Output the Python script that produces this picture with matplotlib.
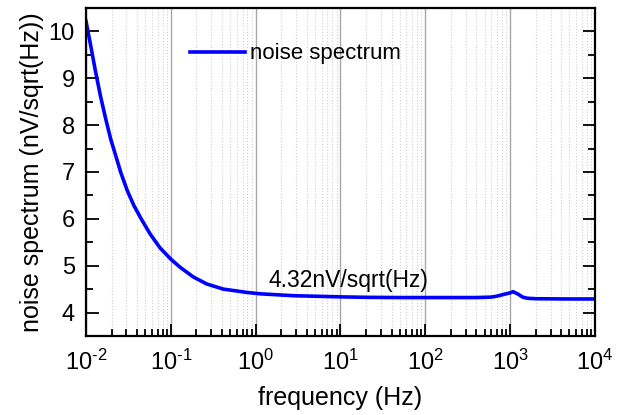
import matplotlib
matplotlib.use('Agg')
import matplotlib.pyplot as plt
from matplotlib.ticker import FixedLocator, MultipleLocator, NullFormatter, FixedFormatter
import numpy as np

plt.rcParams['font.family'] = ['Liberation Sans', 'DejaVu Sans']
plt.rcParams['mathtext.fontset'] = 'custom'
plt.rcParams['mathtext.rm'] = 'Liberation Sans'
plt.rcParams['mathtext.it'] = 'Liberation Sans'

# noise spectrum, values
freq = [0.0100, 0.01135, 0.0130, 0.0149, 0.0171, 0.0195, 0.0224, 0.0257,
        0.0307, 0.0368, 0.0454, 0.0569, 0.0746, 0.100, 0.128, 0.184, 0.265,
        0.416, 0.785, 1.13, 2.76, 9.9, 20, 50, 100, 200, 400, 500, 600, 700,
        850, 1000, 1080, 1250, 1400, 1600, 2000, 5000, 10000]
noise = [10.22, 9.70, 9.13, 8.60, 8.13, 7.71, 7.35, 6.99,
         6.60, 6.28, 5.98, 5.68, 5.38, 5.14, 4.97, 4.76, 4.61,
         4.50, 4.43, 4.40, 4.36, 4.335, 4.325, 4.32, 4.32, 4.32, 4.32, 4.325, 4.33, 4.35,
         4.39, 4.42, 4.445, 4.39, 4.33, 4.305, 4.295, 4.29, 4.29]

x_ticks = [1e-2, 1e-1, 1e0, 1e1, 1e2, 1e3, 1e4]
x_tick_labels = ['$10^{\u20102}$', '$10^{\u20101}$', '$10^{0}$', '$10^{1}$',
                 '$10^{2}$', '$10^{3}$', '$10^{4}$']

fig = plt.figure(figsize=(6.24, 4.15), dpi=100)
ax = fig.add_axes([0.1378, 0.1904, 0.8157, 0.7904])

ax.plot(freq, noise, color='#0000ff', lw=2.6, label='noise spectrum')
ax.set_xscale('log')
ax.set_xlim(1e-2, 1e4)
ax.set_ylim(3.5, 10.5)

minor = [m * d for d in x_ticks[:-1] for m in range(2, 10)]
ax.xaxis.set_major_locator(FixedLocator(x_ticks))
ax.xaxis.set_major_formatter(FixedFormatter(x_tick_labels))
ax.xaxis.set_minor_locator(FixedLocator(minor))
ax.xaxis.set_minor_formatter(NullFormatter())
ax.yaxis.set_major_locator(MultipleLocator(1))
ax.yaxis.set_minor_locator(MultipleLocator(0.5))

ax.grid(True, which='major', axis='x', color='#a8a8a8', lw=1.0)
ax.grid(True, which='minor', axis='x', color='#d0d0d0', lw=0.8, ls=':')

ax.tick_params(which='both', direction='in', labelsize=17, width=1.3)
ax.tick_params(which='major', length=9)
ax.tick_params(which='minor', length=5)
ax.tick_params(axis='y', which='both', right=True, pad=8)
ax.tick_params(axis='x', pad=10)
for s in ax.spines.values():
    s.set_linewidth(1.6)

ax.set_xlabel('frequency (Hz)', fontsize=18, labelpad=8)
ax.set_ylabel('noise spectrum (nV/sqrt(Hz))', fontsize=18, labelpad=3)

ax.legend(loc='center left', bbox_to_anchor=(0.204, 0.860), frameon=False,
          fontsize=16, handlelength=2.5, handletextpad=0.22,
          borderpad=0, borderaxespad=0)
ax.text(1.40, 4.55, '4.32nV/sqrt(Hz)', fontsize=16.5, va='baseline')

fig.savefig('out.png', dpi=100)
